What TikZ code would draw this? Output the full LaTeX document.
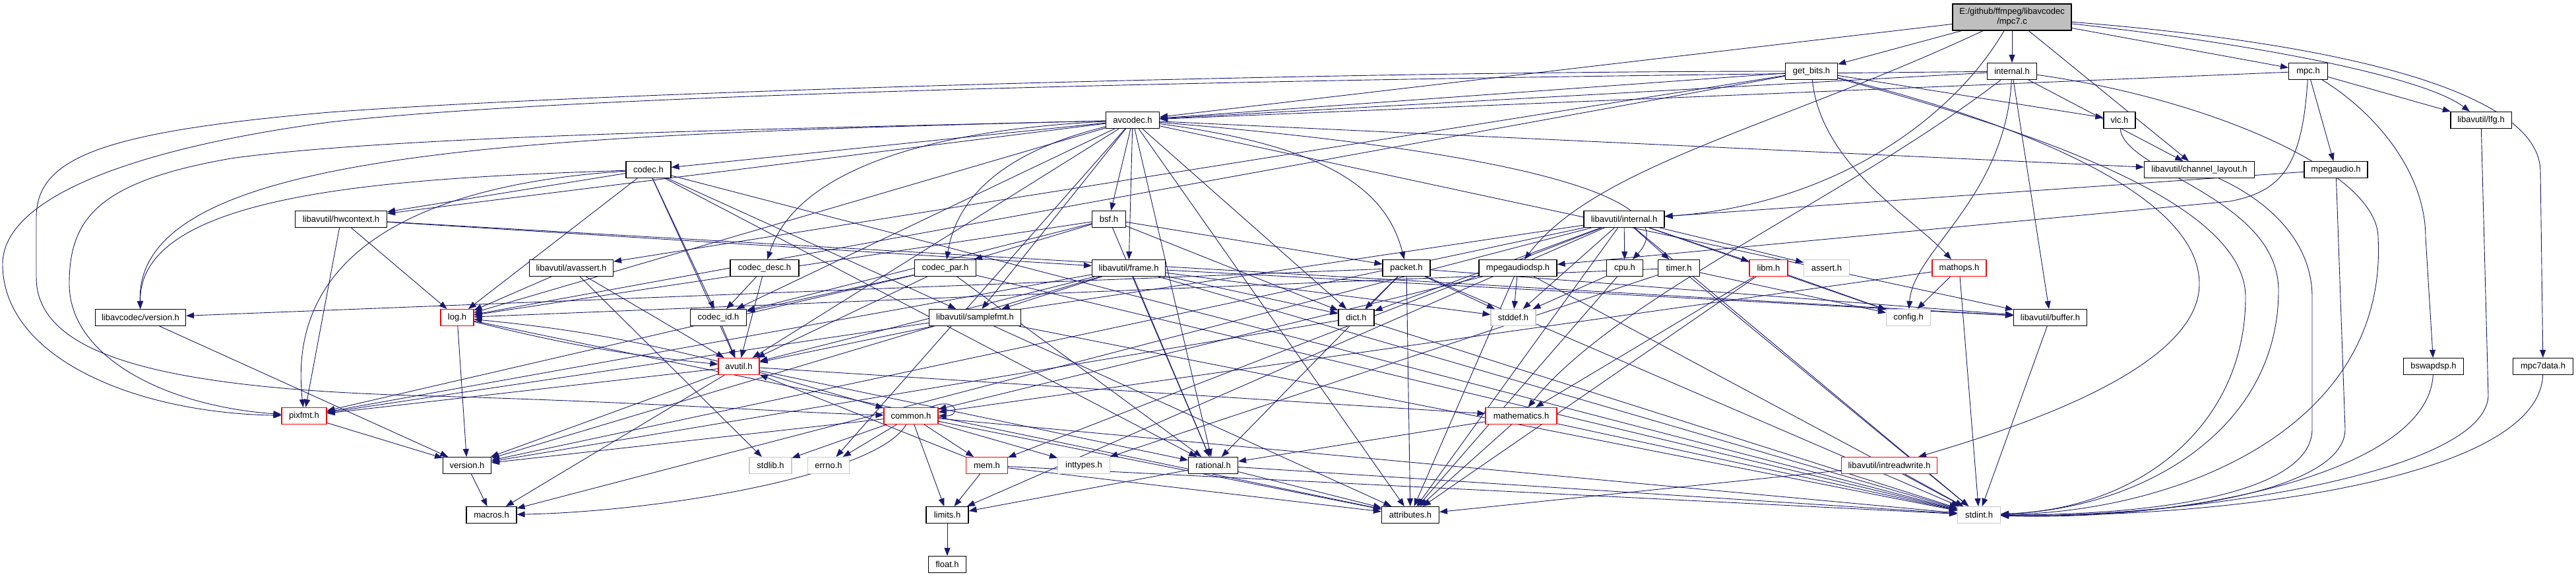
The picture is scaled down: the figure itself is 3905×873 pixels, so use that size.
\documentclass[tikz,border=0pt]{standalone}
\usepackage{fontspec}
\setmainfont{Liberation Sans}
\usetikzlibrary{arrows.meta}
\definecolor{mb}{RGB}{25,25,112}
\definecolor{mainfill}{RGB}{191,191,191}
\definecolor{sysgray}{RGB}{200,200,200}
\definecolor{trunc}{RGB}{255,0,0}
\newcommand\dgfont{\fontsize{13}{15}\selectfont}
\pgfdeclarelayer{bg}
\pgfdeclarelayer{canvas}
\pgfsetlayers{canvas,bg,main}
\tikzset{
  nd/.style={draw=black, fill=white, line width=1.1pt, minimum height=25pt, inner xsep=3pt, inner ysep=0pt, font=\dgfont, text=black, anchor=center},
  rn/.style={nd, draw=trunc},
  gn/.style={nd, draw=sysgray},
  e/.style={draw=mb, line width=0.9pt, -{Triangle[length=12pt,width=9pt]}},
}
\begin{document}
\begin{tikzpicture}[x=1pt,y=-1pt]
\begin{pgfonlayer}{canvas}
\fill[white] (0,0) rectangle (3905,873);
\end{pgfonlayer}
\useasboundingbox (0,0) rectangle (3905,873);
% nodes
\node[nd, fill=mainfill, minimum width=180pt, minimum height=40pt, align=center] (main) at (3050,26) {E:/github/ffmpeg/libavcodec\\/mpc7.c};
\node[nd, minimum width=79pt] (getbits) at (2746,108) {get\_bits.h};
\node[nd, minimum width=75pt] (internal) at (3050,108) {internal.h};
\node[nd, minimum width=59pt] (mpc) at (3499,108) {mpc.h};
\node[nd, minimum width=81pt] (avcodec) at (1717,182) {avcodec.h};
\node[nd, minimum width=48pt] (vlc) at (3213,182) {vlc.h};
\node[nd, minimum width=92pt] (lfg) at (3761,182) {libavutil/lfg.h};
\node[nd, minimum width=68pt] (codec) at (983,257) {codec.h};
\node[nd, minimum width=167pt] (chl) at (3334,257) {libavutil/channel\_layout.h};
\node[nd, minimum width=96pt] (mpegaudio) at (3541,257) {mpegaudio.h};
\node[nd, minimum width=139pt] (hwctx) at (517,332) {libavutil/hwcontext.h};
\node[nd, minimum width=51pt] (bsf) at (1681,332) {bsf.h};
\node[nd, minimum width=122pt] (avint) at (2462,332) {libavutil/internal.h};
\node[nd, minimum width=127pt] (avassert) at (866,406) {libavutil/avassert.h};
\node[nd, minimum width=104pt] (codecdesc) at (1159,406) {codec\_desc.h};
\node[nd, minimum width=93pt] (codecpar) at (1433,406) {codec\_par.h};
\node[nd, minimum width=111pt] (frame) at (1711,406) {libavutil/frame.h};
\node[nd, minimum width=72pt] (packet) at (2132,406) {packet.h};
\node[nd, minimum width=118pt] (mpadsp) at (2301,406) {mpegaudiodsp.h};
\node[nd, minimum width=55pt] (cpu) at (2463,406) {cpu.h};
\node[nd, minimum width=63pt] (timer) at (2545,406) {timer.h};
\node[rn, minimum width=58pt] (libm) at (2681,406) {libm.h};
\node[gn, minimum width=69pt] (assert) at (2769,406) {assert.h};
\node[rn, minimum width=82pt] (mathops) at (2970,406) {mathops.h};
\node[nd, minimum width=137pt] (lcver) at (213,481) {libavcodec/version.h};
\node[rn, minimum width=50pt] (log) at (693,481) {log.h};
\node[nd, minimum width=85pt] (codecid) at (1089,481) {codec\_id.h};
\node[nd, minimum width=139pt] (samplefmt) at (1478,481) {libavutil/samplefmt.h};
\node[nd, minimum width=54pt] (dict) at (2056,481) {dict.h};
\node[gn, minimum width=68pt] (stddef) at (2294,481) {stddef.h};
\node[gn, minimum width=67pt] (config) at (2893,481) {config.h};
\node[nd, minimum width=111pt] (buffer) at (3108,481) {libavutil/buffer.h};
\node[rn, minimum width=62pt] (avutil) at (1120,555) {avutil.h};
\node[nd, minimum width=91pt] (bswap) at (3689,555) {bswapdsp.h};
\node[nd, minimum width=91pt] (mpc7data) at (3855,555) {mpc7data.h};
\node[rn, minimum width=68pt] (pixfmt) at (461,630) {pixfmt.h};
\node[rn, minimum width=82pt] (common) at (1381,630) {common.h};
\node[rn, minimum width=108pt] (mathem) at (2306,630) {mathematics.h};
\node[nd, minimum width=73pt] (version) at (708,705) {version.h};
\node[gn, minimum width=64pt] (stdlib) at (1168,705) {stdlib.h};
\node[gn, minimum width=63pt] (errno) at (1256,705) {errno.h};
\node[rn, minimum width=63pt] (mem) at (1496,705) {mem.h};
\node[gn, minimum width=79pt] (inttypes) at (1643,705) {inttypes.h};
\node[nd, minimum width=75pt] (rational) at (1839,705) {rational.h};
\node[rn, minimum width=145pt] (irw) at (2864,705) {libavutil/intreadwrite.h};
\node[nd, minimum width=76pt] (macros) at (745,780) {macros.h};
\node[nd, minimum width=64pt] (limits) at (1436,780) {limits.h};
\node[nd, minimum width=87pt] (attrib) at (2138,780) {attributes.h};
\node[gn, minimum width=65pt] (stdint) at (3000,780) {stdint.h};
\node[nd, minimum width=57pt] (float) at (1436,855) {float.h};
% edges
\begin{pgfonlayer}{bg}
% main
\draw[e] (main) -- (avcodec);
\draw[e] (main) -- (getbits);
\draw[e] (main) -- (internal);
\draw[e] (main) -- (mpc);
\draw[e] (main) -- (chl);
\draw[e] (main) .. controls (3450,70) and (3680,120) .. (lfg);
\draw[e] (main) .. controls (3600,70) and (3851,150) .. (3851,260) -- (mpc7data);
\draw[e] (main) .. controls (2960,180) and (2780,310) .. (avint);
\draw[e] (main) .. controls (2700,190) and (2420,250) .. (mpadsp);
% internal.h
\draw[e] (internal) -- (avcodec);
\draw[e] (internal) -- (buffer);
\draw[e] (internal) -- (chl);
\draw[e] (internal) .. controls (2800,300) and (2450,450) .. (mathem);
\draw[e] (internal) .. controls (2000,118) and (900,140) .. (500,185) .. controls (200,225) and (4,300) .. (4,400) .. controls (4,540) and (200,625) .. (pixfmt);
\draw[e] (internal) .. controls (3040,300) and (2900,380) .. (config);
\draw[e] (internal) .. controls (3350,150) and (3605,260) .. (3605,360) .. controls (3620,650) and (3300,775) .. (stdint);
% get_bits.h
\draw[e] (getbits) -- (avcodec);
\draw[e] (getbits) .. controls (2000,108) and (900,140) .. (500,170) .. controls (150,200) and (55,240) .. (55,330) -- (55,420) .. controls (55,540) and (250,590) .. (660,600) .. controls (1000,610) and (1200,625) .. (common);
\draw[e] (getbits) .. controls (3000,170) and (3334,280) .. (3334,430) .. controls (3334,560) and (3050,650) .. (irw);
\draw[e] (getbits) -- (log);
\draw[e] (getbits) -- (avassert);
\draw[e] (getbits) .. controls (2760,250) and (2900,330) .. (mathops);
\draw[e] (getbits) -- (vlc);
\draw[e] (getbits) .. controls (3050,190) and (3404,300) .. (3404,450) .. controls (3404,640) and (3250,770) .. (stdint);
% mpc.h
\draw[e] (mpc) -- (avcodec);
\draw[e] (mpc) .. controls (3600,170) and (3677,260) .. (3677,360) -- (bswap);
\draw[e] (mpc) -- (lfg);
\draw[e] (mpc) -- (mpegaudio);
\draw[e] (mpc) .. controls (3490,250) and (3460,290) .. (3380,305) -- (mpadsp);
% right column into stdint.h
\draw[e] (vlc) .. controls (3220,260) and (3454,300) .. (3454,440) .. controls (3454,650) and (3250,770) .. (stdint);
\draw[e] (lfg) -- (3772,600) .. controls (3765,720) and (3300,785) .. (stdint);
\draw[e] (chl) .. controls (3430,300) and (3505,360) .. (3505,450) -- (3505,650) .. controls (3505,740) and (3300,780) .. (stdint);
\draw[e] (mpegaudio) -- (3555,650) .. controls (3555,740) and (3300,785) .. (stdint);
\draw[e] (mpegaudio) -- (avint);
\draw[e] (bswap) .. controls (3680,720) and (3300,790) .. (stdint);
\draw[e] (mpc7data) .. controls (3850,720) and (3400,785) .. (stdint);
% avcodec.h
\draw[e] (avcodec) -- (errno);
\draw[e] (avcodec) -- (samplefmt);
\draw[e] (avcodec) -- (attrib);
\draw[e] (avcodec) -- (avutil);
\draw[e] (avcodec) -- (buffer);
\draw[e] (avcodec) .. controls (2300,230) and (2560,300) .. (cpu);
\draw[e] (avcodec) -- (chl);
\draw[e] (avcodec) -- (dict);
\draw[e] (avcodec) -- (frame);
\draw[e] (avcodec) -- (hwctx);
\draw[e] (avcodec) -- (log);
\draw[e] (avcodec) .. controls (1200,195) and (600,205) .. (350,240) .. controls (150,275) and (105,330) .. (105,430) .. controls (105,540) and (250,615) .. (pixfmt);
\draw[e] (avcodec) -- (rational);
\draw[e] (avcodec) -- (bsf);
\draw[e] (avcodec) -- (codec);
\draw[e] (avcodec) .. controls (1350,200) and (1200,280) .. (codecdesc);
\draw[e] (avcodec) .. controls (1520,230) and (1450,300) .. (codecpar);
\draw[e] (avcodec) -- (codecid);
\draw[e] (avcodec) .. controls (2000,220) and (2100,280) .. (packet);
\draw[e] (avcodec) .. controls (800,205) and (205,225) .. (lcver);
% codec.h
\draw[e] (codec) -- (stdint);
\draw[e] (codec) -- (avutil);
\draw[e] (codec) -- (hwctx);
\draw[e] (codec) -- (log);
\draw[e] (codec) .. controls (700,275) and (430,350) .. (pixfmt);
\draw[e] (codec) -- (rational);
\draw[e] (codec) -- (samplefmt);
\draw[e] (codec) -- (codecid);
\draw[e] (codec) .. controls (600,270) and (210,290) .. (lcver);
% hwcontext.h
\draw[e] (hwctx) -- (buffer);
\draw[e] (hwctx) -- (frame);
\draw[e] (hwctx) -- (log);
\draw[e] (hwctx) -- (pixfmt);
% bsf.h
\draw[e] (bsf) -- (dict);
\draw[e] (bsf) -- (log);
\draw[e] (bsf) -- (rational);
\draw[e] (bsf) -- (codecid);
\draw[e] (bsf) -- (codecpar);
\draw[e] (bsf) -- (packet);
% codec_desc.h, codec_par.h, codec_id.h
\draw[e] (codecdesc) -- (avutil);
\draw[e] (codecdesc) -- (codecid);
\draw[e] (codecpar) -- (stdint);
\draw[e] (codecpar) -- (avutil);
\draw[e] (codecpar) -- (rational);
\draw[e] (codecpar) -- (pixfmt);
\draw[e] (codecpar) -- (codecid);
\draw[e] (codecid) -- (avutil);
% frame.h
\draw[e] (frame) -- (stddef);
\draw[e] (frame) -- (stdint);
\draw[e] (frame) -- (avutil);
\draw[e] (frame) -- (buffer);
\draw[e] (frame) -- (dict);
\draw[e] (frame) -- (rational);
\draw[e] (frame) -- (samplefmt);
\draw[e] (frame) -- (pixfmt);
\draw[e] (frame) -- (version);
% packet.h
\draw[e] (packet) -- (stddef);
\draw[e] (packet) -- (stdint);
\draw[e] (packet) -- (attrib);
\draw[e] (packet) -- (buffer);
\draw[e] (packet) -- (dict);
\draw[e] (packet) -- (rational);
\draw[e] (packet) -- (lcver);
% libavutil/internal.h
\draw[e] (avint) -- (limits);
\draw[e] (avint) -- (stdint);
\draw[e] (avint) -- (stddef);
\draw[e] (avint) -- (assert);
\draw[e] (avint) -- (config);
\draw[e] (avint) -- (attrib);
\draw[e] (avint) -- (timer);
\draw[e] (avint) -- (cpu);
\draw[e] (avint) -- (dict);
\draw[e] (avint) -- (macros);
\draw[e] (avint) -- (mem);
\draw[e] (avint) -- (pixfmt);
\draw[e] (avint) -- (version);
\draw[e] (avint) -- (libm);
% mpegaudiodsp.h, cpu.h, timer.h, libm.h, mathops.h
\draw[e] (mpadsp) -- (stddef);
\draw[e] (mpadsp) -- (stdint);
\draw[e] (mpadsp) -- (attrib);
\draw[e] (mpadsp) -- (common);
\draw[e] (cpu) -- (stddef);
\draw[e] (cpu) -- (attrib);
\draw[e] (timer) -- (config);
\draw[e] (timer) -- (stdint);
\draw[e] (timer) -- (inttypes);
\draw[e] (timer) -- (log);
\draw[e] (libm) -- (config);
\draw[e] (libm) -- (attrib);
\draw[e] (libm) -- (mathem);
\draw[e] (mathops) -- (config);
\draw[e] (mathops) -- (common);
\draw[e] (mathops) -- (stdint);
% libavcodec/version.h, log.h, samplefmt.h, dict.h, buffer.h
\draw[e] (lcver) -- (version);
\draw[e] (log) to[bend right=4] (avutil);
\draw[e] (log) -- (attrib);
\draw[e] (log) -- (version);
\draw[e] (samplefmt) -- (stdint);
\draw[e] (samplefmt) -- (avutil);
\draw[e] (samplefmt) -- (attrib);
\draw[e] (dict) -- (stdint);
\draw[e] (dict) -- (version);
\draw[e] (buffer) -- (stdint);
% avutil.h
\draw[e] (avutil) -- (common);
\draw[e] (avutil) -- (rational);
\draw[e] (avutil) -- (version);
\draw[e] (avutil) -- (macros);
\draw[e] (avutil) -- (mathem);
\draw[e] (avutil) to[bend right=4] (log);
\draw[e] (avutil) -- (pixfmt);
\draw[e] (pixfmt) -- (version);
% common.h
\draw[e] (common) -- (errno);
\draw[e] (common) -- (inttypes);
\draw[e] (common) -- (limits);
\draw[e] (common) -- (stdint);
\draw[e] (common) -- (stdlib);
\draw[e] (common) -- (attrib);
\draw[e] (common) .. controls (1330,720) and (1000,775) .. (macros);
\draw[e] (common) -- (version);
\draw[e] (common) -- (mem);
\draw[e] ([xshift=-12pt]common.north east) .. controls (1450,600) and (1458,630) .. (common.east);
% mem.h, rational.h, mathematics.h, intreadwrite.h
\draw[e] (mem) -- (limits);
\draw[e] (mem) -- (stdint);
\draw[e] (mem) -- (attrib);
\draw[e] (mem) -- (avutil);
\draw[e] (rational) -- (stdint);
\draw[e] (rational) -- (limits);
\draw[e] (rational) -- (attrib);
\draw[e] (mathem) -- (stdint);
\draw[e] (mathem) -- (attrib);
\draw[e] (mathem) -- (rational);
\draw[e] (irw) -- (stdint);
\draw[e] (irw) -- (attrib);
% the rest
\draw[e] (version) -- (macros);
\draw[e] (limits) -- (float);
\draw[e] (avassert) -- (stdlib);
\draw[e] (avassert) -- (avutil);
\draw[e] (avassert) -- (log);
\end{pgfonlayer}
\end{tikzpicture}
\end{document}
